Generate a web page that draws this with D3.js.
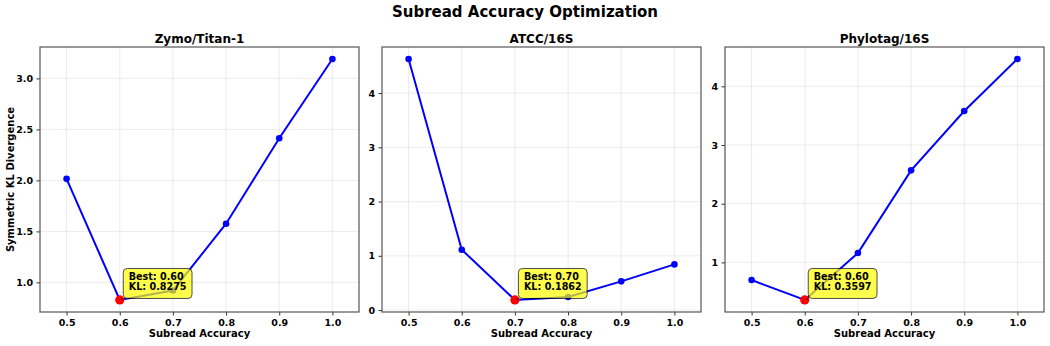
<!DOCTYPE html>
<html>
<head>
<meta charset="utf-8">
<script src="https://cdn.jsdelivr.net/npm/d3@7"></script>
<style>
  body { margin: 0; background: #fff; }
  svg text { font-family: "DejaVu Sans", sans-serif; font-weight: bold; }
</style>
</head>
<body>
<div id="chart"></div>
<script>
// Données
const accuracy = [0.5, 0.6, 0.7, 0.8, 0.9, 1.0];
const datasets = ['Zymo/Titan-1', 'ATCC/16S', 'Phylotag/16S'];
const klZymo = [2.015, 0.8275, 0.92, 1.575, 2.414, 3.19];
const klAtcc = [4.627, 1.113, 0.1862, 0.24, 0.529, 0.842];
const klPhylo = [0.699, 0.3597, 1.159, 2.568, 3.579, 4.465];
const xTicks = [0.5, 0.6, 0.7, 0.8, 0.9, 1.0];
const yTicksZymo = [1.0, 1.5, 2.0, 2.5, 3.0];
const yTicksAtcc = [0, 1, 2, 3, 4];
const yTicksPhylo = [1, 2, 3, 4];

const width = 1050, height = 346;
const panelLefts = [40, 382, 725];
const panelWidth = 319;
const plotTop = 47, plotBottom = 312;

const svg = d3.select('#chart').append('svg')
    .attr('width', width)
    .attr('height', height);

// Titre principal
svg.append('text')
    .attr('x', width / 2)
    .attr('y', 17)
    .attr('text-anchor', 'middle')
    .style('font-size', '15px')
    .text('Subread Accuracy Optimization');

const panels = [
    { title: datasets[0], values: klZymo, ticks: yTicksZymo, fmt: d3.format('.1f') },
    { title: datasets[1], values: klAtcc, ticks: yTicksAtcc, fmt: d3.format('d') },
    { title: datasets[2], values: klPhylo, ticks: yTicksPhylo, fmt: d3.format('d') }
];

panels.forEach((p, i) => {
    const left = panelLefts[i];
    const right = left + panelWidth;

    const x = d3.scaleLinear().domain([0.45, 1.05]).range([left, right]);
    const [mn, mx] = d3.extent(p.values);
    const pad = (mx - mn) * 0.05;
    const y = d3.scaleLinear().domain([mn - pad, mx + pad]).range([plotBottom, plotTop]);

    const g = svg.append('g');

    // Grille
    g.selectAll('.gx').data(xTicks).enter().append('line')
        .attr('x1', d => x(d)).attr('x2', d => x(d))
        .attr('y1', plotTop).attr('y2', plotBottom)
        .attr('stroke', '#b0b0b0').attr('stroke-opacity', 0.3).attr('stroke-width', 0.8);
    g.selectAll('.gy').data(p.ticks).enter().append('line')
        .attr('x1', left).attr('x2', right)
        .attr('y1', d => y(d)).attr('y2', d => y(d))
        .attr('stroke', '#b0b0b0').attr('stroke-opacity', 0.3).attr('stroke-width', 0.8);

    // Axes
    const xAxis = g.append('g')
        .attr('transform', `translate(0,${plotBottom})`)
        .call(d3.axisBottom(x).tickValues(xTicks).tickFormat(d3.format('.1f')).tickSize(3.5).tickPadding(3.5));
    const yAxis = g.append('g')
        .attr('transform', `translate(${left},0)`)
        .call(d3.axisLeft(y).tickValues(p.ticks).tickFormat(p.fmt).tickSize(3.5).tickPadding(3.5));
    [xAxis, yAxis].forEach(a => {
        a.select('.domain').remove();
        a.selectAll('line').attr('stroke', '#333');
        a.selectAll('text').style('font-size', '9.5px').attr('fill', '#000');
    });

    // Cadre
    g.append('rect')
        .attr('x', left).attr('y', plotTop)
        .attr('width', panelWidth).attr('height', plotBottom - plotTop)
        .attr('fill', 'none')
        .attr('stroke', '#555')
        .attr('stroke-width', 1.2);

    // Courbe
    const pts = accuracy.map((a, k) => ({ a: a, v: p.values[k] }));
    g.append('path')
        .datum(pts)
        .attr('fill', 'none')
        .attr('stroke', '#0000ff')
        .attr('stroke-width', 2)
        .attr('d', d3.line().x(d => x(d.a)).y(d => y(d.v)));
    g.selectAll('.pt').data(pts).enter().append('circle')
        .attr('cx', d => x(d.a)).attr('cy', d => y(d.v))
        .attr('r', 3.3)
        .attr('fill', '#0000ff');

    // Meilleur point
    const best = pts.reduce((m, d) => d.v < m.v ? d : m);
    const bx = x(best.a), by = y(best.v);
    g.append('circle')
        .attr('cx', bx).attr('cy', by)
        .attr('r', 4.6)
        .attr('fill', '#ff0000');

    // Annotation
    const ann = g.append('g');
    const boxL = bx + 3.5, boxT = by - 31.5, boxH = 30;
    const box = ann.append('rect')
        .attr('x', boxL).attr('y', boxT)
        .attr('height', boxH)
        .attr('rx', 4).attr('ry', 4)
        .attr('fill', '#ffff00')
        .attr('stroke', '#000')
        .attr('stroke-width', 1)
        .attr('opacity', 0.7);
    const txt = ann.append('text')
        .attr('x', boxL + 5.5)
        .attr('y', boxT + 11.5)
        .style('font-size', '9.6px');
    txt.append('tspan').attr('x', boxL + 5.5).text(`Best: ${best.a.toFixed(2)}`);
    txt.append('tspan').attr('x', boxL + 5.5).attr('dy', 10.3).text(`KL: ${best.v.toFixed(4)}`);
    const tw = txt.node().getBBox().width;
    box.attr('width', tw + 11);

    // Flèche
    ann.append('line')
        .attr('x1', boxL).attr('y1', boxT + boxH)
        .attr('x2', bx + 1.5).attr('y2', by - 0.5)
        .attr('stroke', '#000').attr('stroke-width', 1);

    // Titres et labels
    svg.append('text')
        .attr('x', (left + right) / 2)
        .attr('y', 43)
        .attr('text-anchor', 'middle')
        .style('font-size', '12px')
        .text(p.title);
    svg.append('text')
        .attr('x', (left + right) / 2)
        .attr('y', 337)
        .attr('text-anchor', 'middle')
        .style('font-size', '10px')
        .text('Subread Accuracy');
    if (i === 0) {
        svg.append('text')
            .attr('transform', `translate(14,${(plotTop + plotBottom) / 2}) rotate(-90)`)
            .attr('text-anchor', 'middle')
            .style('font-size', '10px')
            .text('Symmetric KL Divergence');
    }
});
</script>
</body>
</html>
